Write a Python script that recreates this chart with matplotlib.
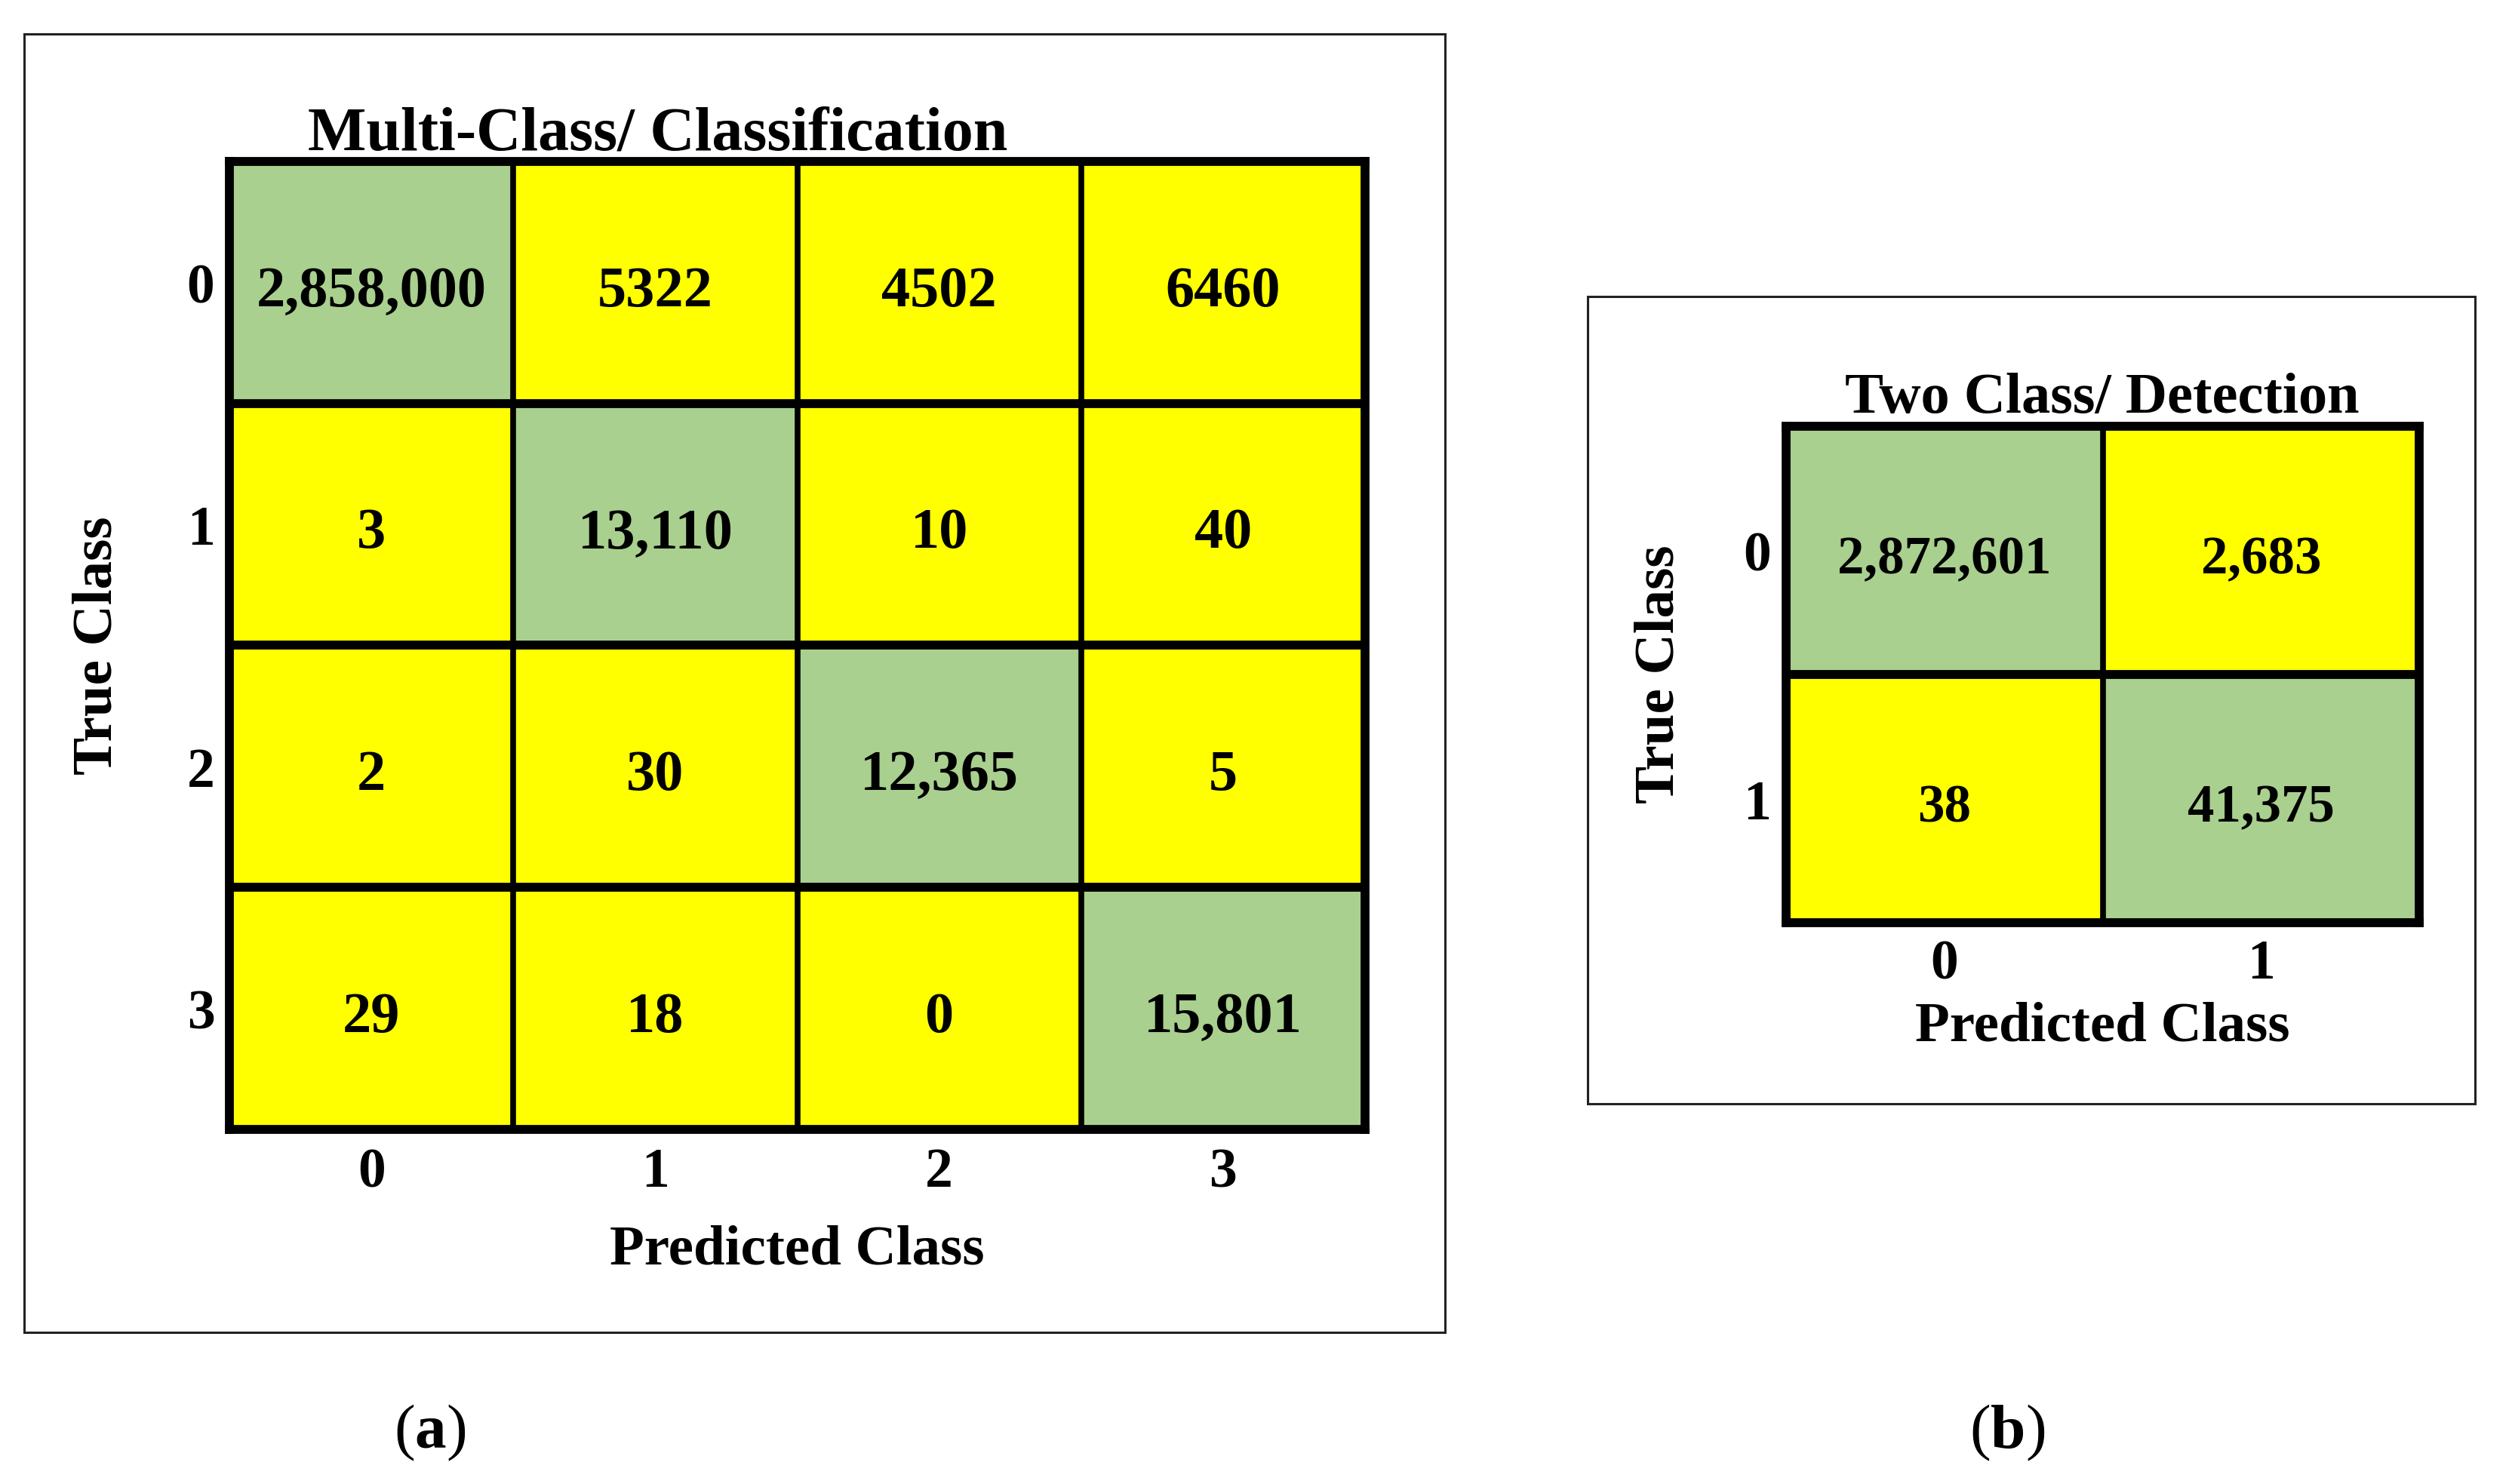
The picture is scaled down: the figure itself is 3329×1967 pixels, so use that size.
import numpy as np
import matplotlib
matplotlib.use("Agg")
import matplotlib.pyplot as plt
from matplotlib.colors import ListedColormap
from matplotlib.patches import Rectangle

plt.rcParams['font.family'] = ['Liberation Serif', 'DejaVu Serif']
plt.rcParams['mathtext.fontset'] = 'custom'
plt.rcParams['mathtext.rm'] = 'Liberation Serif'
plt.rcParams['mathtext.bf'] = 'Liberation Serif:bold'

# data
multi_labels = ["0", "1", "2", "3"]
multi_values = [
    ["2,858,000", "5322", "4502", "6460"],
    ["3", "13,110", "10", "40"],
    ["2", "30", "12,365", "5"],
    ["29", "18", "0", "15,801"],
]
two_labels = ["0", "1"]
two_values = [
    ["2,872,601", "2,683"],
    ["38", "41,375"],
]

W, H = 3329, 1967
fig = plt.figure(figsize=(W / 100, H / 100), dpi=100)

GREEN = "#a9d08e"
YELLOW = "#ffff00"
cmap = ListedColormap([YELLOW, GREEN])
LAB_FS = 54
TICK_FS = 53
DY = 9  # small downward nudge (px) for vertically centred text


def px_axes(x0, y0, x1, y1):
    return fig.add_axes([x0 / W, 1 - y1 / H, (x1 - x0) / W, (y1 - y0) / H])


def frame(x0, y0, x1, y1):
    fig.patches.append(Rectangle((x0 / W, 1 - y1 / H), (x1 - x0) / W, (y1 - y0) / H,
                                 transform=fig.transFigure, fill=False,
                                 edgecolor="#222222", linewidth=2.2))


def ftext(x, y, s, fs, weight="bold", **kw):
    fig.text(x / W, 1 - (y + DY) / H, s, ha="center", va="center",
             fontsize=fs, fontweight=weight, **kw)


def draw_matrix(ax, labels, values, title, fs, box, title_y, xlab_y, ylab_x, tick_x, tick_y):
    n = len(labels)
    x0, y0, x1, y1 = box
    ax.imshow(np.eye(n), cmap=cmap, vmin=0, vmax=1, aspect="auto",
              extent=(-0.5, n - 0.5, n - 0.5, -0.5))
    for i in range(1, n):
        ax.axhline(i - 0.5, color="black", linewidth=8.5)
        ax.axvline(i - 0.5, color="black", linewidth=5.5)
    for s in ax.spines.values():
        s.set_linewidth(8.5)
        s.set_color("black")
    ax.set_xticks([])
    ax.set_yticks([])
    for r in range(n):
        for c in range(n):
            ax.text(c, r + 0.04, values[r][c], ha="center", va="center",
                    fontsize=fs, fontweight="bold")
    # tick labels
    cw = (x1 - x0) / n
    ch = (y1 - y0) / n
    for i, lab in enumerate(labels):
        ftext(x0 + cw * (i + 0.5), tick_y, lab, TICK_FS)
        ftext(tick_x, y0 + ch * (i + 0.5), lab, TICK_FS)
    ftext((x0 + x1) / 2, xlab_y, "Predicted Class", LAB_FS)
    fig.text(ylab_x / W, 1 - (y0 + y1) / 2 / H, "True Class", ha="center", va="center",
             rotation=90, fontsize=LAB_FS, fontweight="bold")
    ftext(title[1], title_y, title[0], title[2])


# (a) multi-class
frame(32, 45, 1915, 1766)
box_a = (304, 214, 1809, 1497)
ax1 = px_axes(*box_a)
draw_matrix(ax1, multi_labels, multi_values, ("Multi-Class/ Classification", 872, 59), 55,
            box_a, title_y=170, xlab_y=1648, ylab_x=129, tick_x=266, tick_y=1546)

# (b) two-class
frame(2104, 393, 3280, 1463)
box_b = (2367, 565, 3206, 1223)
ax2 = px_axes(*box_b)
draw_matrix(ax2, two_labels, two_values, ("Two Class/ Detection", 2786, 55), 51,
            box_b, title_y=520, xlab_y=1352, ylab_x=2199, tick_x=2329, tick_y=1270)

ftext(570, 1890, r"($\mathbf{a}$)", 60, weight="normal")
ftext(2660, 1890, r"($\mathbf{b}$)", 60, weight="normal")

fig.savefig("out.png", dpi=100, facecolor="white")
